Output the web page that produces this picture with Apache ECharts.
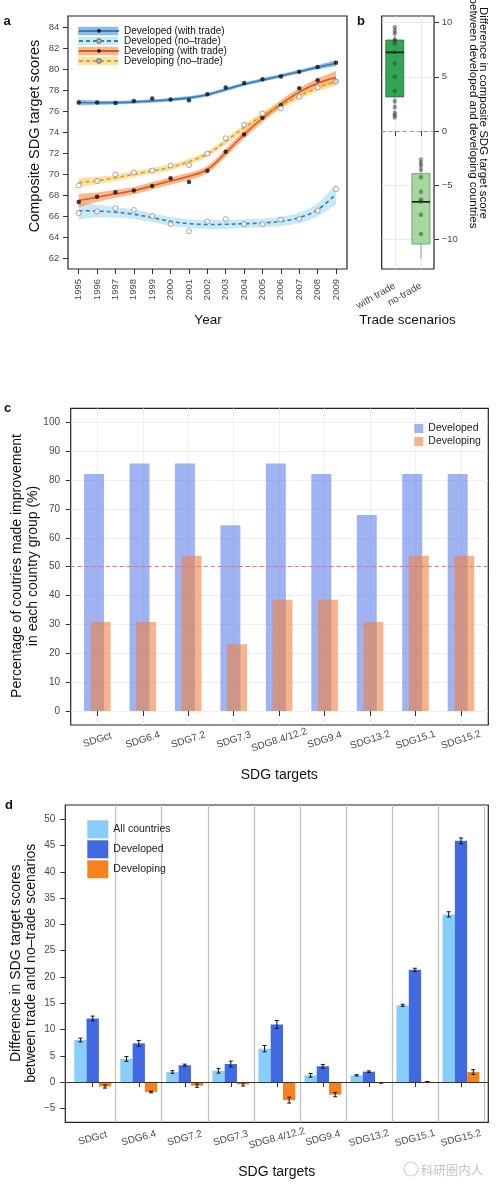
<!DOCTYPE html>
<html><head><meta charset="utf-8">
<script src="https://cdn.jsdelivr.net/npm/echarts@6/dist/echarts.min.js"></script>
<style>html,body{margin:0;padding:0;background:#fff}#chart{width:500px;height:1191px}</style>
</head><body><div id="chart"></div>
<script>
// ================= DATA =================
// Panel a
const years = ['1995','1996','1997','1998','1999','2000','2001','2002','2003','2004','2005','2006','2007','2008','2009'];
const devTradePts   = [76.85,76.85,76.8,77.0,77.23,77.13,77.07,77.64,78.28,78.72,79.07,79.33,79.8,80.25,80.66];
const devTradeFit   = [76.85,76.83,76.84,76.9,77.0,77.12,77.3,77.6,78.1,78.6,79.0,79.4,79.8,80.22,80.6];
const devTradeBand  = [0.28,0.2,0.18,0.17,0.17,0.17,0.17,0.17,0.17,0.17,0.17,0.17,0.18,0.2,0.28];
const devNoTradePts = [66.29,66.44,66.76,66.6,66.0,65.24,64.55,65.49,65.71,65.24,65.24,65.65,65.74,66.53,68.58];
const devNoTradeFit = [66.52,66.48,66.38,66.18,65.85,65.5,65.28,65.2,65.22,65.28,65.35,65.5,65.85,66.6,68.1];
const devNoTradeBand= [0.85,0.6,0.5,0.45,0.42,0.42,0.42,0.42,0.42,0.42,0.42,0.45,0.5,0.65,1.0];
const dvgTradePts   = [67.34,67.85,68.29,68.45,68.87,69.63,69.25,70.33,72.14,73.79,75.4,76.6,78.21,78.98,78.88];
const dvgTradeFit   = [67.49,67.81,68.13,68.44,68.9,69.37,69.8,70.45,72.05,73.8,75.35,76.7,77.85,78.7,79.25];
const dvgTradeBand  = [0.65,0.45,0.38,0.35,0.35,0.35,0.35,0.35,0.38,0.4,0.4,0.38,0.38,0.45,0.62];
const dvgNoTradePts = [68.93,69.37,69.98,70.17,70.36,70.84,70.87,71.98,73.44,74.72,75.8,76.3,77.4,78.3,78.85];
const dvgNoTradeFit = [69.2,69.4,69.66,70.0,70.32,70.67,71.2,71.95,73.15,74.45,75.6,76.6,77.45,78.25,78.9];
const dvgNoTradeBand= [0.45,0.35,0.3,0.28,0.28,0.28,0.28,0.28,0.3,0.32,0.32,0.3,0.3,0.35,0.45];
const yTicksA = [62,84,2];

// Panel b
const scenarios = ['with trade','no-trade'];
const diffWithTrade = [9.57,9.26,9.0,8.46,8.33,8.09,7.26,6.24,5.0,3.7,2.74,2.22,1.67,1.45,1.24];
const diffNoTrade   = [-2.64,-2.93,-3.22,-3.57,-4.26,-5.6,-6.32,-6.51,-7.73,-9.5,-10.58,-10.74,-11.66,-11.81,-10.27];
// [min, Q1, median, Q3, max]
const boxWithTrade = [1.24,3.15,7.26,8.4,9.57];
const boxNoTrade   = [-11.81,-10.44,-6.54,-3.94,-2.71];

// Panel c
const sdgTargets = ['SDGct','SDG6.4','SDG7.2','SDG7.3','SDG8.4/12.2','SDG9.4','SDG13.2','SDG15.1','SDG15.2'];
const pctDeveloped  = [82.1,85.7,85.7,64.3,85.7,82.1,67.9,82.1,82.1];
const pctDeveloping = [30.8,30.8,53.8,23.1,38.5,38.5,30.8,53.8,53.8];
const pctThreshold = 50;

// Panel d
const diffAll       = [8.0,4.4,1.9,2.15,6.35,1.27,1.27,14.6,31.9];
const diffAllErr    = [0.35,0.45,0.25,0.45,0.6,0.35,0.12,0.2,0.5];
const diffDev       = [12.1,7.36,3.2,3.43,10.95,3.0,1.97,21.35,45.9];
const diffDevErr    = [0.45,0.55,0.2,0.55,0.75,0.35,0.15,0.3,0.55];
const diffDvg       = [-0.85,-1.9,-0.7,-0.45,-3.45,-2.4,-0.15,0.05,1.9];
const diffDvgErr    = [0.3,0.15,0.3,0.3,0.55,0.4,0.08,0.05,0.45];

// ================= STYLE / LAYOUT =================
const FONT = '"Liberation Sans", Arial, Helvetica, sans-serif';
const LBL = '#4a4a4a';
const TICK = {show:true, length:5, lineStyle:{color:'#333', width:1}};
function box(l,t,r,b){return {left:l, top:t, width:r-l, height:b-t, containLabel:false, outerBoundsMode:'none'};}
const minus = v => (v < 0 ? '\u2212' + (-v) : String(v));
const FRAME = {show:true, borderColor:'#222', borderWidth:1.2, backgroundColor:'transparent'};

const grids = [
  Object.assign(box(68,16,347,269), FRAME),    //0 a frame
  box(78.7,27.7,336,258),                      //1 a data
  Object.assign(box(381.7,16,434,269), FRAME), //2 b frame
  box(381.7,22.7,434,239.3),                   //3 b data
  box(394.8,16,420.9,269),                     //4 b vertical grid
  Object.assign(box(70.7,408.3,488.3,725), FRAME), //5 c frame
  box(70.7,422.3,488.3,711),                   //6 c horizontal grid
  box(97.3,408.3,461,725),                     //7 c vertical grid
  box(74.6,422.3,483.7,711),                   //8 c data
  Object.assign(box(65.3,805,488.3,1122.3), FRAME), //9 d frame
  box(115.7,805,484,1122.3),                   //10 d separators
  box(65.3,819.3,488.3,1108.3),                //11 d zero line
  box(69.7,819.3,484,1108.3)                   //12 d data
];
function hid(i){return {gridIndex:i, type:'value', show:false, min:0, max:1};}
function lines(i, min, max, interval, color, width){
  return {gridIndex:i, type:'value', min:min, max:max, interval:interval,
    axisLine:{show:false}, axisTick:{show:false}, axisLabel:{show:false},
    splitLine:{show:true, lineStyle:{color:color, width:width||1}}};
}

const xAxes = [
  hid(0),
  {gridIndex:1, type:'category', data:years, boundaryGap:false, offset:11,
   axisLine:{show:false}, axisTick:Object.assign({interval:0}, TICK),
   axisLabel:{rotate:90, fontSize:9.5, color:LBL, margin:10, interval:0, fontFamily:FONT},
   splitLine:{show:false}},
  hid(2),
  {gridIndex:3, type:'category', data:scenarios, offset:29.7,
   axisLine:{show:false}, axisTick:Object.assign({alignWithLabel:true, interval:0}, TICK),
   axisLabel:{rotate:30, fontSize:10, color:LBL, margin:16, interval:0, fontFamily:FONT},
   splitLine:{show:false}},
  lines(4,0,1,1,'#e6e6e6',0.8),
  hid(5), hid(6),
  lines(7,0,8,1,'#ebebeb',0.8),
  {gridIndex:8, type:'category', data:sdgTargets, offset:14,
   axisLine:{show:false}, axisTick:Object.assign({alignWithLabel:true, interval:0}, TICK),
   axisLabel:{rotate:18, align:'center', verticalAlign:'middle', fontSize:10, color:LBL, margin:15, interval:0, fontFamily:FONT},
   splitLine:{show:false}},
  hid(9),
  lines(10,0,8,1,'#c2c2c2',1.3),
  hid(11),
  {gridIndex:12, type:'category', data:sdgTargets, offset:14,
   axisLine:{show:false}, axisTick:Object.assign({alignWithLabel:true, interval:0}, TICK),
   axisLabel:{rotate:15, align:'center', verticalAlign:'middle', fontSize:10, color:LBL, margin:16, interval:0, fontFamily:FONT},
   splitLine:{show:false}}
];

const yAxes = [
  hid(0),
  {gridIndex:1, type:'value', min:yTicksA[0], max:yTicksA[1], interval:yTicksA[2], offset:10.7,
   axisLine:{show:false}, axisTick:TICK,
   axisLabel:{fontSize:9.5, color:LBL, margin:8.7, fontFamily:FONT}, splitLine:{show:false}},
  hid(2),
  {gridIndex:3, type:'value', position:'right', min:-10, max:10, interval:5,
   axisLine:{show:false}, axisTick:TICK,
   axisLabel:{fontSize:9.5, color:LBL, margin:7.7, fontFamily:FONT, formatter:minus},
   splitLine:{show:true, lineStyle:{color:'#e6e6e6', width:0.8}}},
  hid(4), hid(5),
  lines(6,0,100,10,'#ebebeb',0.8),
  hid(7),
  {gridIndex:8, type:'value', min:0, max:100, interval:10, offset:3.9,
   axisLine:{show:false}, axisTick:TICK,
   axisLabel:{fontSize:10, color:LBL, margin:10.7, fontFamily:FONT}, splitLine:{show:false}},
  hid(9), hid(10),
  {gridIndex:11, type:'value', show:false, min:-5, max:50, interval:5},
  {gridIndex:12, type:'value', min:-5, max:50, interval:5, offset:4.4,
   axisLine:{show:false}, axisTick:TICK,
   axisLabel:{fontSize:10, color:LBL, margin:10, fontFamily:FONT, formatter:minus}, splitLine:{show:false}}
];

// ================= SERIES =================
const series = [];
const aGroups = [
  {name:'Developed (with trade)',  pts:devTradePts,   fit:devTradeFit,   band:devTradeBand,   line:'#2f7ec1', bandColor:'rgba(55,135,200,0.55)',  dash:'solid',  filled:true},
  {name:'Developed (no\u2013trade)',    pts:devNoTradePts, fit:devNoTradeFit, band:devNoTradeBand, line:'#2a86a8', bandColor:'rgba(150,210,235,0.5)', dash:[4,3], filled:false},
  {name:'Developing (with trade)', pts:dvgTradePts,   fit:dvgTradeFit,   band:dvgTradeBand,   line:'#e0561c', bandColor:'rgba(242,125,50,0.55)', dash:'solid',  filled:true},
  {name:'Developing (no\u2013trade)',   pts:dvgNoTradePts, fit:dvgNoTradeFit, band:dvgNoTradeBand, line:'#e49a2a', bandColor:'rgba(252,200,90,0.55)', dash:[4,3], filled:false}
];
const SMOOTH = 0.35;
aGroups.forEach((g, k) => {
  series.push({type:'line', name:'lo'+k, xAxisIndex:1, yAxisIndex:1, stack:'band'+k, smooth:SMOOTH,
    data: g.fit.map((v,i)=>v - g.band[i]), symbol:'none', lineStyle:{width:0, opacity:0}, silent:true, z:1});
  series.push({type:'line', name:'band '+g.name, xAxisIndex:1, yAxisIndex:1, stack:'band'+k, smooth:SMOOTH,
    data: g.band.map(v=>2*v), symbol:'none', lineStyle:{width:0, opacity:0},
    itemStyle:{color:g.bandColor}, areaStyle:{color:g.bandColor, opacity:1}, silent:true, z:1});
});
aGroups.forEach((g) => {
  series.push({type:'line', name:g.name, xAxisIndex:1, yAxisIndex:1, smooth:SMOOTH,
    data: g.fit, showSymbol:false, symbol: g.filled ? 'circle' : 'emptyCircle', symbolSize:4,
    lineStyle:{color:g.line, width:1.6, type:g.dash}, itemStyle:{color: g.filled ? '#111' : '#888'}, z:3});
});
aGroups.forEach((g, k) => {
  series.push({type:'scatter', name:'pts'+k, xAxisIndex:1, yAxisIndex:1, data: g.pts,
    symbol:'circle', symbolSize: g.filled ? 4.5 : 5,
    itemStyle: g.filled ? {color:'#111'} : {color:'#fff', borderColor:'#777', borderWidth:0.8}, z:4});
});

// Panel b
const boxFill = ['#33a654','#a3d99c'];
const boxStroke = ['#1f6e38','#5f8f5c'];
series.push({type:'custom', name:'boxes', xAxisIndex:3, yAxisIndex:3,
  data:[[0].concat(boxWithTrade), [1].concat(boxNoTrade)],
  encode:{x:0, y:[1,2,3,4,5]},
  renderItem:function(params, api){
    const i = api.value(0);
    const y = k => api.coord([i, api.value(k)])[1];
    const cx = api.coord([i, api.value(3)])[0];
    const hw = 9;
    const j = params.dataIndex;
    return {type:'group', children:[
      {type:'line', shape:{x1:cx,y1:y(1),x2:cx,y2:y(2)}, style:{stroke:'#777', lineWidth:0.7}},
      {type:'line', shape:{x1:cx,y1:y(4),x2:cx,y2:y(5)}, style:{stroke:'#777', lineWidth:0.7}},
      {type:'rect', shape:{x:cx-hw, y:y(4), width:2*hw, height:y(2)-y(4)}, style:{fill:boxFill[j], stroke:boxStroke[j], lineWidth:0.8}},
      {type:'line', shape:{x1:cx-hw,y1:y(3),x2:cx+hw,y2:y(3)}, style:{stroke:'#111', lineWidth:1.6}}
    ]};
  }, z:2});
series.push({type:'scatter', name:'bpts0', xAxisIndex:3, yAxisIndex:3, data: diffWithTrade.map(v=>[0,v]),
  symbolSize:4.5, itemStyle:{color:'rgba(55,55,55,0.6)'}, z:4,
  markLine:{silent:true, symbol:'none', label:{show:false}, lineStyle:{type:[4,3], color:'#999', width:1}, data:[{yAxis:0}]}});
series.push({type:'scatter', name:'bpts1', xAxisIndex:3, yAxisIndex:3, data: diffNoTrade.map(v=>[1,v]),
  symbolSize:4.5, itemStyle:{color:'rgba(55,55,55,0.6)'}, z:4});

// Panel c
series.push({type:'line', name:'cthr', xAxisIndex:6, yAxisIndex:6, data:[], silent:true,
  markLine:{silent:true, symbol:'none', label:{show:false}, lineStyle:{type:[4,3], color:'#e0707a', width:1}, data:[{yAxis:pctThreshold}]}, z:5});
series.push({type:'bar', name:'Developed', xAxisIndex:8, yAxisIndex:8, data:pctDeveloped,
  barWidth:20, barGap:'-67%', itemStyle:{color:'rgba(70,110,232,0.52)'}, z:2});
series.push({type:'bar', name:'Developing', xAxisIndex:8, yAxisIndex:8, data:pctDeveloping,
  barWidth:20, barGap:'-67%', itemStyle:{color:'rgba(240,128,64,0.6)'}, z:3});

// Panel d
series.push({type:'line', name:'dzero', xAxisIndex:11, yAxisIndex:11, data:[], silent:true,
  markLine:{silent:true, symbol:'none', label:{show:false}, lineStyle:{type:'solid', color:'#333', width:1}, data:[{yAxis:0}]}, z:5});
const BW = 12.3;
const dGroups = [
  {name:'All countries',  vals:diffAll, err:diffAllErr, color:'#87cefa'},
  {name:'Developed (d)',  vals:diffDev, err:diffDevErr, color:'#4169e1'},
  {name:'Developing (d)', vals:diffDvg, err:diffDvgErr, color:'#f5821f'}
];
dGroups.forEach(g => {
  series.push({type:'bar', name:g.name, xAxisIndex:12, yAxisIndex:12, data:g.vals,
    barWidth:BW, barGap:'0%', itemStyle:{color:g.color}, z:2});
});
dGroups.forEach((g, k) => {
  series.push({type:'custom', name:'err'+k, xAxisIndex:12, yAxisIndex:12,
    data: g.vals.map((v,i)=>[i, v - g.err[i], v + g.err[i]]), encode:{x:0, y:[1,2]},
    renderItem:function(params, api){
      const i = api.value(0);
      const lo = api.coord([i, api.value(1)]);
      const hi = api.coord([i, api.value(2)]);
      const cx = lo[0] + (k-1)*BW;
      const c = 2;
      return {type:'group', children:[
        {type:'line', shape:{x1:cx,y1:lo[1],x2:cx,y2:hi[1]}, style:{stroke:'#111', lineWidth:1}},
        {type:'line', shape:{x1:cx-c,y1:lo[1],x2:cx+c,y2:lo[1]}, style:{stroke:'#111', lineWidth:1}},
        {type:'line', shape:{x1:cx-c,y1:hi[1],x2:cx+c,y2:hi[1]}, style:{stroke:'#111', lineWidth:1}}
      ]};
    }, z:4});
});

// ================= LEGENDS =================
const legendA = {orient:'vertical', left:78, top:25.9, padding:0, itemGap:0, itemWidth:40, selectedMode:false};
const legends = [
  Object.assign({}, legendA, {icon:'rect', itemHeight:8.5,
    data: aGroups.map(g=>({name:'band '+g.name, itemStyle:{color:g.bandColor}})),
    textStyle:{fontSize:10, lineHeight:9.6, color:'rgba(0,0,0,0)', fontFamily:FONT}}),
  Object.assign({}, legendA, {itemHeight:4.5,
    data: aGroups.map(g=>g.name),
    textStyle:{fontSize:10, lineHeight:9.6, color:'#111', fontFamily:FONT}}),
  {orient:'vertical', left:414.3, top:423, padding:0, itemGap:2, itemWidth:9, itemHeight:9, icon:'rect', selectedMode:false,
   data:['Developed','Developing'], textStyle:{fontSize:10.5, color:'#222', fontFamily:FONT}},
  {orient:'vertical', left:87.3, top:820.3, padding:0, itemGap:2, itemWidth:21, itemHeight:18, icon:'rect', selectedMode:false,
   data:dGroups.map(g=>g.name), formatter:n=>n.replace(' (d)',''), textStyle:{fontSize:10.5, color:'#222', fontFamily:FONT}}
];

// ================= TEXT =================
function txt(text, x, y, size, opts){
  opts = opts || {};
  return {type:'text', x:x, y:y, rotation:opts.rot||0, silent:true,
    style:{text:text, font:(opts.bold?'bold ':'')+size+'px '+FONT, fill:opts.color||'#111',
      textAlign:'center', textVerticalAlign:'middle', align:'center', verticalAlign:'middle', lineHeight:opts.lh||size*1.2}};
}
const graphics = [
  txt('a', 7, 21.5, 13, {bold:true}),
  txt('b', 361, 21.5, 13, {bold:true}),
  txt('c', 7.5, 408.5, 13, {bold:true}),
  txt('d', 9, 805, 13, {bold:true}),
  txt('Composite SDG target scores', 35, 136, 14.5, {rot:Math.PI/2}),
  txt('Year', 208, 320.5, 13.5),
  txt('Difference in composite SDG target score\nbetween developed and developing countries', 478, 113, 11.5, {rot:-Math.PI/2, lh:10.6}),
  txt('Trade scenarios', 407.5, 320.5, 13.5),
  txt('Percentage of coutries made improvement\nin each country group (%)', 24.7, 566, 14, {rot:Math.PI/2, lh:16}),
  txt('SDG targets', 279.3, 775, 14),
  txt('Difference in SDG target scores\nbetween trade and no\u2013trade scenarios', 23.8, 963.3, 14, {rot:Math.PI/2, lh:14.5}),
  txt('SDG targets', 276.7, 1172.3, 14),
  {type:'text', x:452, y:1170, silent:true, style:{text:'科研圈内人', font:'12.5px "Noto Sans CJK SC", sans-serif', fill:'#c4c4c4',
    textAlign:'center', textVerticalAlign:'middle', align:'center', verticalAlign:'middle'}},
  {type:'circle', x:411, y:1169, silent:true, shape:{r:7}, style:{fill:'none', stroke:'#d0d0d0', lineWidth:1.2}}
];

const chart = echarts.init(document.getElementById('chart'), null, {renderer:'canvas'});
chart.setOption({
  animation:false,
  backgroundColor:'#ffffff',
  textStyle:{fontFamily:FONT},
  grid:grids, xAxis:xAxes, yAxis:yAxes, series:series, legend:legends, graphic:graphics,
  tooltip:{show:false}
});
</script></body></html>
